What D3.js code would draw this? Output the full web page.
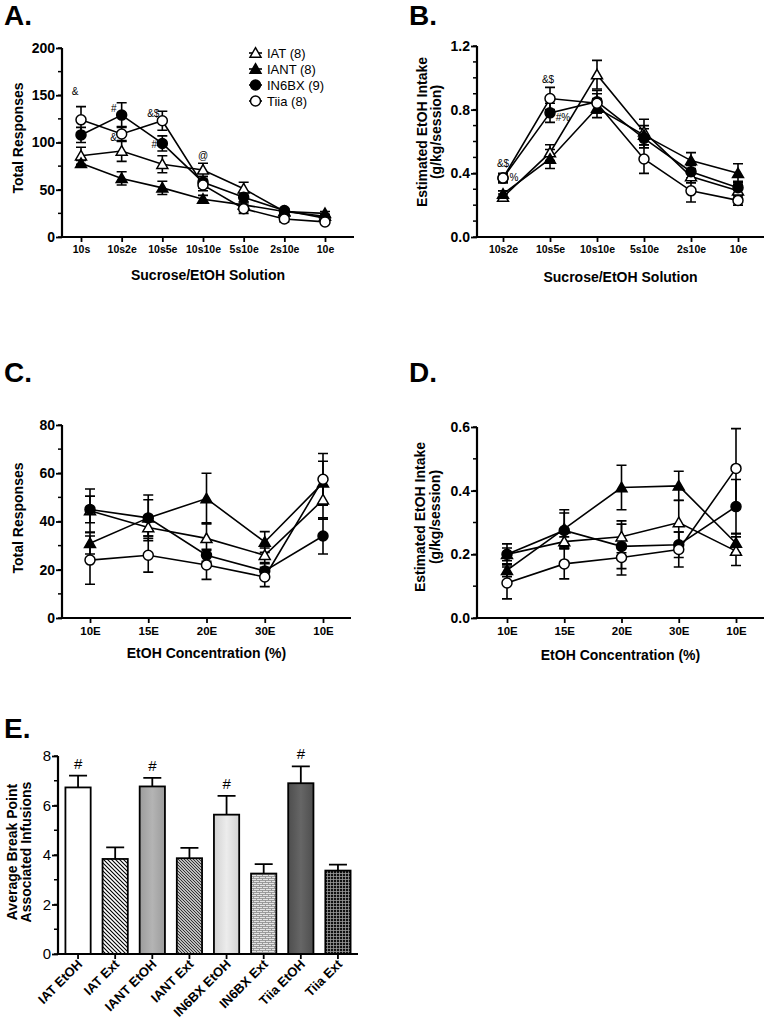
<!DOCTYPE html>
<html><head><meta charset="utf-8">
<script src="https://cdn.jsdelivr.net/npm/d3@7"></script>
<style>
body{margin:0;background:#fff;}
text{font-family:"Liberation Sans",Arial,sans-serif;fill:#000;}
</style></head>
<body>
<svg id="c" width="767" height="1020"></svg>
<script>
// ---------------- DATA ----------------
const seriesNames = ["IAT (8)", "IANT (8)", "IN6BX (9)", "Tiia (8)"];
const seriesMarkers = ["triOpen", "triFill", "circFill", "circOpen"];

const catsA = ["10s", "10s2e", "10s5e", "10s10e", "5s10e", "2s10e", "10e"];
const A_IAT = [86, 91, 77, 71, 51, 27, 22];
const A_IAT_err = [9, 11, 9, 7, 7, 2, 2];
const A_IANT = [78, 62, 52, 40, 34, 27, 25];
const A_IANT_err = [3, 7, 7, 4, 3, 2, 2];
const A_IN6BX = [108, 129, 99, 58, 42, 28, 20];
const A_IN6BX_err = [8, 13, 8, 6, 5, 2, 2];
const A_Tiia = [124, 109, 123, 55, 30, 19, 16];
const A_Tiia_err = [14, 8, 10, 6, 5, 3, 2];
const A_ticks = [0, 50, 100, 150, 200];
// [text, category index, value anchor, dx, dy]
const A_notes = [["&", 0, 124, -6, -25], ["#", 1, 129, -8, -3], ["&", 1, 109, -8, 7], ["&$", 2, 123, -9, -4], ["#", 2, 99, -8, 5], ["@", 3, 70, 0, -12]];

const catsB = ["10s2e", "10s5e", "10s10e", "5s10e", "2s10e", "10e"];
const B_IAT = [0.25, 0.53, 1.02, 0.66, 0.38, 0.29];
const B_IAT_err = [0.02, 0.05, 0.09, 0.08, 0.04, 0.04];
const B_IANT = [0.27, 0.49, 0.81, 0.64, 0.48, 0.40];
const B_IANT_err = [0.02, 0.06, 0.06, 0.06, 0.05, 0.06];
const B_IN6BX = [0.37, 0.78, 0.85, 0.62, 0.41, 0.31];
const B_IN6BX_err = [0.02, 0.06, 0.07, 0.06, 0.04, 0.04];
const B_Tiia = [0.37, 0.87, 0.84, 0.49, 0.29, 0.23];
const B_Tiia_err = [0.03, 0.07, 0.06, 0.09, 0.07, 0.03];
const B_ticks = [0, 0.4, 0.8, 1.2];
const B_notes = [["&$", 0, 0.37, 0, -11], ["%", 0, 0.37, 11, 3], ["&$", 1, 0.87, -2, -16], ["#%", 1, 0.78, 13, 8]];

const catsC = ["10E", "15E", "20E", "30E", "10E"];
const C_IAT = [44.5, 37.5, 33, 26, 49];
const C_IAT_err = [9, 3.5, 6.5, 3, 8];
const C_IANT = [31, 41.5, 49.5, 31.5, 56];
const C_IANT_err = [4.5, 9.5, 10.5, 4.3, 9];
const C_IN6BX = [45, 41.5, 26, 19.5, 34];
const C_IN6BX_err = [5.5, 7.5, 2.5, 3, 7.5];
const C_Tiia = [24, 26, 22, 17, 57.5];
const C_Tiia_err = [10, 7, 6, 4, 10.7];
const C_ticks = [0, 20, 40, 60, 80];

const catsD = ["10E", "15E", "20E", "30E", "10E"];
const D_IAT = [0.20, 0.24, 0.255, 0.30, 0.21];
const D_IAT_err = [0.033, 0.015, 0.05, 0.07, 0.045];
const D_IANT = [0.15, 0.28, 0.41, 0.415, 0.235];
const D_IANT_err = [0.02, 0.06, 0.07, 0.046, 0.03];
const D_IN6BX = [0.20, 0.275, 0.225, 0.23, 0.35];
const D_IN6BX_err = [0.02, 0.055, 0.07, 0.04, 0.085];
const D_Tiia = [0.11, 0.17, 0.19, 0.215, 0.47];
const D_Tiia_err = [0.05, 0.047, 0.055, 0.055, 0.125];
const D_ticks = [0, 0.2, 0.4, 0.6];

const catsE = ["IAT EtOH", "IAT Ext", "IANT EtOH", "IANT Ext", "IN6BX EtOH", "IN6BX Ext", "Tiia EtOH", "Tiia Ext"];
const E_values = [6.73, 3.84, 6.77, 3.87, 5.63, 3.25, 6.9, 3.37];
const E_errors = [0.48, 0.47, 0.35, 0.42, 0.76, 0.38, 0.68, 0.24];
const E_marks = ["#", "", "#", "", "#", "", "#", ""];
const E_ticks = [0, 2, 4, 6, 8];

// ---------------- DRAW ----------------
const svg = d3.select("#c");
const FONT = "'Liberation Sans', Arial, sans-serif";
const defs = svg.append("defs");

function panelTitle(t, x, y) {
  svg.append("text").attr("x", x).attr("y", y).attr("font-size", 28).attr("font-weight", "bold").text(t);
}

function marker(g, type, x, y) {
  if (type.startsWith("tri")) {
    g.append("path").attr("d", d3.symbol(d3.symbolTriangle, 52)()).attr("transform", `translate(${x},${y + 1})`)
      .attr("fill", type === "triFill" ? "#000" : "#fff").attr("stroke", "#000").attr("stroke-width", 1.5);
  } else {
    g.append("circle").attr("cx", x).attr("cy", y).attr("r", 5)
      .attr("fill", type === "circFill" ? "#000" : "#fff").attr("stroke", "#000").attr("stroke-width", 1.5);
  }
}

function linePanel(o) {
  const g = svg.append("g");
  const x = d3.scalePoint().domain(d3.range(o.cats.length)).range([o.x0, o.x1]);
  const y = d3.scaleLinear().domain(o.domain).range([o.yb, o.yt]);
  const minor = d3.range(o.domain[0], o.domain[1] + o.minor / 2, o.minor);
  g.selectAll(".mn").data(minor).join("line").attr("x1", o.ax - 4).attr("x2", o.ax)
    .attr("y1", d => y(d)).attr("y2", d => y(d)).attr("stroke", "#000").attr("stroke-width", 1.5);
  const ya = g.append("g").attr("transform", `translate(${o.ax},0)`)
    .call(d3.axisLeft(y).tickValues(o.ticks).tickSize(6).tickSizeOuter(0).tickFormat(o.fmt));
  ya.select(".domain").attr("stroke-width", 2.2).attr("d", `M0,${o.yb + 1}V${o.yt}`);
  ya.selectAll(".tick line").attr("stroke-width", 1.8);
  ya.selectAll("text").attr("font-family", FONT).attr("font-size", 14).attr("font-weight", "bold").attr("fill", "#000").attr("x", -7);
  const xa = g.append("g").attr("transform", `translate(0,${o.yb})`)
    .call(d3.axisBottom(x).tickSize(5).tickSizeOuter(0).tickFormat(i => o.cats[i]));
  xa.select(".domain").attr("stroke-width", 2.2).attr("d", `M${o.ax - 1},0H${o.xEnd}`);
  xa.selectAll(".tick line").attr("stroke-width", 1.8);
  xa.selectAll("text").attr("font-family", FONT).attr("font-size", o.xfs).attr("font-weight", "bold").attr("fill", "#000").attr("y", o.xlY);
  g.append("text").attr("x", (o.ax + o.xEnd) / 2 + o.titleDx).attr("y", o.titleY).attr("text-anchor", "middle")
    .attr("font-size", 14).attr("font-weight", "bold").text(o.xTitle);
  o.yTitle.forEach((t, i) => {
    g.append("text").attr("transform", `translate(${o.yTitleX[i]},${o.yTitleY}) rotate(-90)`).attr("text-anchor", "middle")
      .attr("font-size", 14).attr("font-weight", "bold").text(t);
  });
  const line = d3.line().x((d, i) => x(i)).y(d => y(d));
  o.series.forEach(s => {
    g.append("path").attr("d", line(s.v)).attr("fill", "none").attr("stroke", "#000").attr("stroke-width", 1.6);
  });
  o.series.forEach(s => {
    s.v.forEach((v, i) => {
      const e = s.e[i];
      const xx = x(i);
      g.append("path").attr("d", `M${xx},${y(v - e)}V${y(v + e)}M${xx - 5},${y(v - e)}H${xx + 5}M${xx - 5},${y(v + e)}H${xx + 5}`)
        .attr("stroke", "#000").attr("stroke-width", 1.6).attr("fill", "none");
    });
  });
  o.series.forEach(s => {
    s.v.forEach((v, i) => marker(g, s.m, x(i), y(v)));
  });
  (o.notes || []).forEach(n => {
    g.append("text").attr("x", x(n[1]) + n[3]).attr("y", y(n[2]) + n[4]).attr("text-anchor", "middle")
      .attr("font-size", 10).attr("fill", "#000").text(n[0]);
  });
  return {x, y, g};
}

function mkSeries(vals, errs) {
  return vals.map((v, i) => ({v, e: errs[i], m: seriesMarkers[i]}));
}

// Panel A
panelTitle("A.", 4, 25);
linePanel({
  cats: catsA, x0: 81, x1: 325, ax: 62, xEnd: 354, yb: 237, yt: 48, domain: [0, 200], ticks: A_ticks, minor: 25,
  fmt: d3.format("d"), xfs: 10.5, xlY: 9, xTitle: "Sucrose/EtOH Solution", titleY: 280, titleDx: 0,
  yTitle: ["Total Responses"], yTitleX: [23], yTitleY: 138,
  series: mkSeries([A_IAT, A_IANT, A_IN6BX, A_Tiia], [A_IAT_err, A_IANT_err, A_IN6BX_err, A_Tiia_err]),
  notes: A_notes
});
const leg = svg.append("g");
seriesNames.forEach((n, i) => {
  const yy = 53 + i * 16;
  leg.append("line").attr("x1", 249).attr("x2", 262).attr("y1", yy).attr("y2", yy).attr("stroke", "#000").attr("stroke-width", 1.6);
  marker(leg, seriesMarkers[i], 255.5, yy);
  leg.append("text").attr("x", 267).attr("y", yy + 5).attr("font-size", 13).text(n);
});

// Panel B
panelTitle("B.", 409, 25);
linePanel({
  cats: catsB, x0: 503, x1: 738, ax: 477, xEnd: 764, yb: 237, yt: 46, domain: [0, 1.2], ticks: B_ticks, minor: 0.1,
  fmt: d3.format(".1f"), xfs: 10.5, xlY: 9, xTitle: "Sucrose/EtOH Solution", titleY: 282, titleDx: 0,
  yTitle: ["Estimated EtOH Intake", "(g/kg/session)"], yTitleX: [427, 441], yTitleY: 132,
  series: mkSeries([B_IAT, B_IANT, B_IN6BX, B_Tiia], [B_IAT_err, B_IANT_err, B_IN6BX_err, B_Tiia_err]),
  notes: B_notes
});

// Panel C
panelTitle("C.", 4, 382);
linePanel({
  cats: catsC, x0: 90, x1: 323, ax: 62, xEnd: 351, yb: 618, yt: 425, domain: [0, 80], ticks: C_ticks, minor: 10,
  fmt: d3.format("d"), xfs: 11.5, xlY: 9, xTitle: "EtOH Concentration (%)", titleY: 658, titleDx: 0,
  yTitle: ["Total Responses"], yTitleX: [23], yTitleY: 518,
  series: mkSeries([C_IAT, C_IANT, C_IN6BX, C_Tiia], [C_IAT_err, C_IANT_err, C_IN6BX_err, C_Tiia_err])
});

// Panel D
panelTitle("D.", 409, 382);
linePanel({
  cats: catsD, x0: 507, x1: 736, ax: 477, xEnd: 764, yb: 618, yt: 427, domain: [0, 0.6], ticks: D_ticks, minor: 0.1,
  fmt: d3.format(".1f"), xfs: 11.5, xlY: 9, xTitle: "EtOH Concentration (%)", titleY: 660, titleDx: 0,
  yTitle: ["Estimated EtOH Intake", "(g/kg/session)"], yTitleX: [425, 440], yTitleY: 517,
  series: mkSeries([D_IAT, D_IANT, D_IN6BX, D_Tiia], [D_IAT_err, D_IANT_err, D_IN6BX_err, D_Tiia_err])
});

// Panel E patterns / gradients
function grad(id, c0, c1) {
  const lg = defs.append("linearGradient").attr("id", id).attr("x1", 0).attr("x2", 1).attr("y1", 0).attr("y2", 0);
  lg.append("stop").attr("offset", "0%").attr("stop-color", c0);
  lg.append("stop").attr("offset", "50%").attr("stop-color", c1);
  lg.append("stop").attr("offset", "100%").attr("stop-color", c0);
}
grad("gIANT", "#9c9c9c", "#b4b4b4");
grad("gIN6", "#d2d2d2", "#ececec");
grad("gTiia", "#4e4e4e", "#666666");
let p = defs.append("pattern").attr("id", "hatch1").attr("patternUnits", "userSpaceOnUse").attr("width", 4).attr("height", 4);
p.append("rect").attr("width", 4).attr("height", 4).attr("fill", "#fff");
p.append("path").attr("d", "M-1,-1L5,5M-1,3L1,5M3,-1L5,1").attr("stroke", "#000").attr("stroke-width", 1.1);
p = defs.append("pattern").attr("id", "hatch2").attr("patternUnits", "userSpaceOnUse").attr("width", 3).attr("height", 3);
p.append("rect").attr("width", 3).attr("height", 3).attr("fill", "#bdbdbd");
p.append("path").attr("d", "M-1,-1L4,4M-1,2L1,4M2,-1L4,1").attr("stroke", "#333").attr("stroke-width", 1);
p = defs.append("pattern").attr("id", "brick").attr("patternUnits", "userSpaceOnUse").attr("width", 6).attr("height", 4);
p.append("rect").attr("width", 6).attr("height", 4).attr("fill", "#e4e4e4");
p.append("path").attr("d", "M0,0.5H6M0,2.5H6M1.5,0.5V2.5M4.5,2.5V4.5").attr("stroke", "#8a8a8a").attr("stroke-width", 0.8);
p = defs.append("pattern").attr("id", "grid").attr("patternUnits", "userSpaceOnUse").attr("width", 3).attr("height", 3);
p.append("rect").attr("width", 3).attr("height", 3).attr("fill", "#111");
p.append("path").attr("d", "M0,0.5H3M0.5,0V3").attr("stroke", "#9a9a9a").attr("stroke-width", 0.8);
const E_fills = ["#fff", "url(#hatch1)", "url(#gIANT)", "url(#hatch2)", "url(#gIN6)", "url(#brick)", "url(#gTiia)", "url(#grid)"];

panelTitle("E.", 4, 738);
(function () {
  const g = svg.append("g");
  const ax = 58, yb = 954, yt = 756, xEnd = 358;
  const x = d3.scaleBand().domain(catsE).range([58, 358]).paddingInner(0.32).paddingOuter(0.2);
  const y = d3.scaleLinear().domain([0, 8]).range([yb, yt]);
  const minor = d3.range(0, 8.5, 1);
  g.selectAll(".mn").data(minor).join("line").attr("x1", ax - 4).attr("x2", ax).attr("y1", d => y(d)).attr("y2", d => y(d))
    .attr("stroke", "#000").attr("stroke-width", 1.5);
  const ya = g.append("g").attr("transform", `translate(${ax},0)`).call(d3.axisLeft(y).tickValues(E_ticks).tickSize(6).tickSizeOuter(0));
  ya.select(".domain").attr("stroke-width", 2.2).attr("d", `M0,${yb + 1}V${yt}`);
  ya.selectAll(".tick line").attr("stroke-width", 1.8);
  ya.selectAll("text").attr("font-family", FONT).attr("font-size", 15).attr("fill", "#000").attr("x", -7);
  g.selectAll(".bar").data(catsE).join("rect")
    .attr("x", d => x(d)).attr("width", x.bandwidth())
    .attr("y", (d, i) => y(E_values[i])).attr("height", (d, i) => yb - y(E_values[i]))
    .attr("fill", (d, i) => E_fills[i]).attr("stroke", "#000").attr("stroke-width", 1.8);
  catsE.forEach((c, i) => {
    const cx = x(c) + x.bandwidth() / 2;
    g.append("path").attr("d", `M${cx},${y(E_values[i])}V${y(E_values[i] + E_errors[i])}M${cx - 9},${y(E_values[i] + E_errors[i])}H${cx + 9}`)
      .attr("stroke", "#000").attr("stroke-width", 1.8).attr("fill", "none");
    if (E_marks[i]) g.append("text").attr("x", cx).attr("y", y(E_values[i] + E_errors[i]) - 7).attr("text-anchor", "middle")
      .attr("font-size", 15).attr("fill", "#000").text(E_marks[i]);
  });
  const xa = g.append("g").attr("transform", `translate(0,${yb})`).call(d3.axisBottom(x).tickSize(5).tickSizeOuter(0));
  xa.select(".domain").attr("stroke-width", 2.2).attr("d", `M${ax - 1},0H${xEnd}`);
  xa.selectAll(".tick line").attr("stroke-width", 1.8);
  xa.selectAll("text").attr("font-family", FONT).attr("font-size", 13).attr("font-weight", "bold").attr("fill", "#000")
    .attr("text-anchor", "end").attr("y", 0).attr("dy", 0).attr("transform", "translate(5,11) rotate(-45)");
  ["Average Break Point", "Associated Infusions"].forEach((t, i) => {
    g.append("text").attr("transform", `translate(${17 + i * 14},${852}) rotate(-90)`).attr("text-anchor", "middle")
      .attr("font-size", 14).attr("font-weight", "bold").text(t);
  });
})();
</script>
</body></html>
